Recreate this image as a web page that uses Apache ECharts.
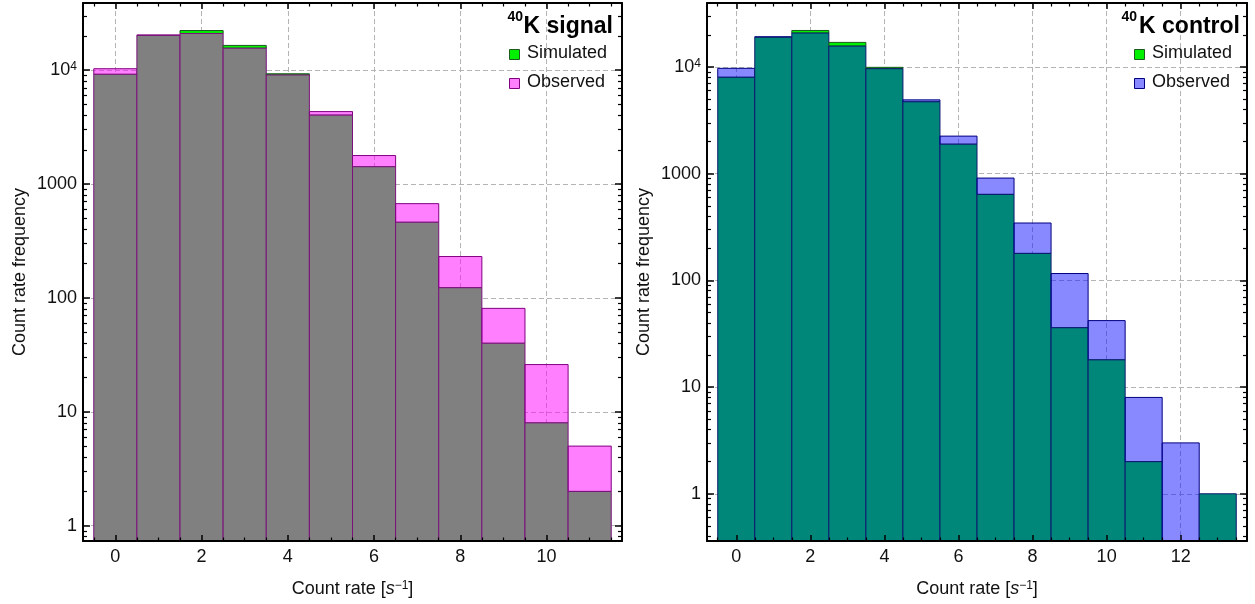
<!DOCTYPE html>
<html><head><meta charset="utf-8">
<script src="https://cdn.jsdelivr.net/npm/echarts@6/dist/echarts.min.js"></script>
<style>html,body{margin:0;padding:0;background:#fff}#c{width:1255px;height:604px}</style>
</head><body><div id="c"></div>
<script>
// ---- data ----
const binsL = [0, 1, 2, 3, 4, 5, 6, 7, 8, 9, 10, 11];
const simL  = [9200, 20200, 22300, 16500, 9300, 4030, 1420, 462, 123, 40, 8, 2];
const obsL  = [10300, 20400, 21000, 15600, 9080, 4330, 1780, 673, 231, 81, 26, 5];

const binsR = [0, 1, 2, 3, 4, 5, 6, 7, 8, 9, 10, 11, 12, 13];
const simR  = [8010, 19000, 22000, 17000, 9930, 4720, 1890, 640, 179, 36, 18, 2, 0, 1];
const obsR  = [9720, 19200, 20800, 15700, 9640, 4920, 2250, 910, 345, 116, 42, 8, 3, 1];

// ---- tick values ----
const xTicksL = [0, 2, 4, 6, 8, 10];
const xMinorL = [-0.5, 0.5, 1, 1.5, 2.5, 3, 3.5, 4.5, 5, 5.5, 6.5, 7, 7.5, 8.5, 9, 9.5, 10.5, 11, 11.5];
const xTicksR = [0, 2, 4, 6, 8, 10, 12];
const xMinorR = [-0.5, 0.5, 1, 1.5, 2.5, 3, 3.5, 4.5, 5, 5.5, 6.5, 7, 7.5, 8.5, 9, 9.5, 10.5, 11, 11.5, 12.5, 13, 13.5];
const yTicks = [1, 10, 100, 1000, 10000];
const yMinorL = [0.8, 0.9, 2, 3, 4, 5, 6, 7, 8, 9, 20, 30, 40, 50, 60, 70, 80, 90,
  200, 300, 400, 500, 600, 700, 800, 900, 2000, 3000, 4000, 5000, 6000, 7000, 8000, 9000, 20000, 30000];
const yMinorR = [0.4, 0.5, 0.6, 0.7, 0.8, 0.9, 2, 3, 4, 5, 6, 7, 8, 9, 20, 30, 40, 50, 60, 70, 80, 90,
  200, 300, 400, 500, 600, 700, 800, 900, 2000, 3000, 4000, 5000, 6000, 7000, 8000, 9000, 20000, 30000];

const FONT = '"Liberation Sans", Arial, sans-serif';
const TXT = '#111';
const FS = 18;
const GRIDLINE = { show: true, lineStyle: { color: '#b4b4b4', type: [5, 3], width: 1 } };

const chart = echarts.init(document.getElementById('c'), null, { renderer: 'canvas' });

function makeBars(overFill, overEdge, obsFill, obsEdge, simFill, simEdge) {
  return function (params, api) {
    const x = api.value(0), sim = api.value(1), obs = api.value(2);
    const cs = params.coordSys;
    const bottom = cs.y + cs.height;
    const xl = api.coord([x - 0.5, 1])[0];
    const xr = api.coord([x + 0.5, 1])[0];
    const lo = Math.min(sim, obs), hi = Math.max(sim, obs);
    const yLo = lo > 0 ? api.coord([x, lo])[1] : bottom;
    const yHi = hi > 0 ? api.coord([x, hi])[1] : bottom;
    const ch = [];
    if (hi > lo) {
      const simHigher = sim > obs;
      ch.push({ type: 'rect', shape: { x: xl, y: yHi, width: xr - xl, height: yLo - yHi },
        style: { fill: simHigher ? simFill : obsFill, stroke: simHigher ? simEdge : obsEdge, lineWidth: 1 } });
    }
    if (lo > 0) {
      ch.push({ type: 'rect', shape: { x: xl, y: yLo, width: xr - xl, height: bottom - yLo },
        style: { fill: overFill, stroke: overEdge, lineWidth: 1 } });
    }
    return { type: 'group', children: ch };
  };
}

function yFmt(v) {
  const r = Math.round(v);
  if (r >= 10000) return '10{sup|' + Math.round(Math.log10(r)) + '}';
  return String(r);
}

function axesFor(g, xmin, xmax, xTicks, xMinor, ymin, ymax, yMinor, splitN) {
  const xs = [
    { gridIndex: g, type: 'value', min: xmin, max: xmax, splitNumber: splitN, position: 'bottom', z: 0,
      axisLine: { show: false, onZero: false }, axisTick: { show: false },
      axisLabel: { show: true, customValues: xTicks, fontSize: FS, fontFamily: FONT, color: TXT, margin: 7 },
      splitLine: GRIDLINE,
      name: 'Count rate [{it|s}{sup|\u22121}]', nameLocation: 'middle', nameGap: 39,
      nameTextStyle: { fontSize: FS, fontFamily: FONT, color: TXT,
        rich: { it: { fontStyle: 'italic', fontSize: FS, fontFamily: FONT, color: TXT },
                sup: { fontSize: 12, fontFamily: FONT, color: TXT, verticalAlign: 'top' } } } },
    { gridIndex: g, type: 'value', min: xmin, max: xmax, position: 'bottom', z: 5,
      axisLine: { show: true, onZero: false, lineStyle: { color: '#000', width: 2 } },
      axisTick: { show: true, inside: true, length: 6, customValues: xTicks, lineStyle: { color: '#000', width: 1.5 } },
      axisLabel: { show: false }, splitLine: { show: false } },
    { gridIndex: g, type: 'value', min: xmin, max: xmax, position: 'top', z: 5,
      axisLine: { show: true, onZero: false, lineStyle: { color: '#000', width: 2 } },
      axisTick: { show: true, inside: true, length: 6, customValues: xTicks, lineStyle: { color: '#000', width: 1.5 } },
      axisLabel: { show: false }, splitLine: { show: false } },
    { gridIndex: g, type: 'value', min: xmin, max: xmax, position: 'bottom', z: 5,
      axisLine: { show: false, onZero: false },
      axisTick: { show: true, inside: true, length: 3.5, customValues: xMinor, lineStyle: { color: '#000', width: 1.2 } },
      axisLabel: { show: false }, splitLine: { show: false } },
    { gridIndex: g, type: 'value', min: xmin, max: xmax, position: 'top', z: 5,
      axisLine: { show: false, onZero: false },
      axisTick: { show: true, inside: true, length: 3.5, customValues: xMinor, lineStyle: { color: '#000', width: 1.2 } },
      axisLabel: { show: false }, splitLine: { show: false } }
  ];
  const ys = [
    { gridIndex: g, type: 'log', logBase: 10, min: ymin, max: ymax, position: 'left', z: 0,
      axisLine: { show: false, onZero: false }, axisTick: { show: false },
      axisLabel: { show: true, customValues: yTicks, formatter: yFmt, fontSize: FS, fontFamily: FONT, color: TXT, margin: 6,
        rich: { sup: { fontSize: 12, fontFamily: FONT, color: TXT, verticalAlign: 'top' } } },
      splitLine: GRIDLINE,
      name: 'Count rate frequency', nameLocation: 'middle', nameGap: 54,
      nameTextStyle: { fontSize: FS, fontFamily: FONT, color: TXT } },
    { gridIndex: g, type: 'log', logBase: 10, min: ymin, max: ymax, position: 'left', z: 5,
      axisLine: { show: true, onZero: false, lineStyle: { color: '#000', width: 2 } },
      axisTick: { show: true, inside: true, length: 7, customValues: yTicks, lineStyle: { color: '#000', width: 1.5 } },
      axisLabel: { show: false }, splitLine: { show: false } },
    { gridIndex: g, type: 'log', logBase: 10, min: ymin, max: ymax, position: 'right', z: 5,
      axisLine: { show: true, onZero: false, lineStyle: { color: '#000', width: 2 } },
      axisTick: { show: true, inside: true, length: 7, customValues: yTicks, lineStyle: { color: '#000', width: 1.5 } },
      axisLabel: { show: false }, splitLine: { show: false } },
    { gridIndex: g, type: 'log', logBase: 10, min: ymin, max: ymax, position: 'left', z: 5,
      axisLine: { show: false, onZero: false },
      axisTick: { show: true, inside: true, length: 4, customValues: yMinor, lineStyle: { color: '#000', width: 1.2 } },
      axisLabel: { show: false }, splitLine: { show: false } },
    { gridIndex: g, type: 'log', logBase: 10, min: ymin, max: ymax, position: 'right', z: 5,
      axisLine: { show: false, onZero: false },
      axisTick: { show: true, inside: true, length: 4, customValues: yMinor, lineStyle: { color: '#000', width: 1.2 } },
      axisLabel: { show: false }, splitLine: { show: false } }
  ];
  return { xs, ys };
}

const A = axesFor(0, -0.75, 11.75, xTicksL, xMinorL, 0.734, 38900, yMinorL, 6);
const B = axesFor(1, -0.79, 13.79, xTicksR, xMinorR, 0.361, 39800, yMinorR, 7);

function titleGraphics(titleRight, supRight, word) {
  return [
    { type: 'text', x: titleRight, y: 27, z: 20,
      style: { text: 'K ' + word, font: 'bold 23px ' + FONT, fill: '#000', align: 'right', verticalAlign: 'middle' } },
    { type: 'text', x: supRight, y: 17, z: 20,
      style: { text: '40', font: 'bold 14px ' + FONT, fill: '#000', align: 'right', verticalAlign: 'middle' } }
  ];
}
function swatch(x, y, fill, stroke) {
  return { type: 'rect', z: 20, shape: { x: x, y: y, width: 10, height: 10 }, style: { fill: fill, stroke: stroke, lineWidth: 1 } };
}
function label(x, y, t) {
  return { type: 'text', x: x, y: y, z: 20, style: { text: t, font: FS + 'px ' + FONT, fill: TXT, align: 'left', verticalAlign: 'middle' } };
}

const graphics = [].concat(
  titleGraphics(613, 523, 'signal'),
  [swatch(509.5, 49.5, '#00f000', '#1d5a1d'), label(527, 53, 'Simulated'),
   swatch(509.5, 78.5, '#ff80ff', '#800080'), label(527, 82, 'Observed')],
  titleGraphics(1240, 1137, 'control'),
  [swatch(1134.5, 49.5, '#00f000', '#1d5a1d'), label(1152, 53, 'Simulated'),
   swatch(1134.5, 78.5, '#8888ff', '#000080'), label(1152, 82, 'Observed')]
);

const dataL = binsL.map((b, i) => [b, simL[i], obsL[i]]);
const dataR = binsR.map((b, i) => [b, simR[i], obsR[i]]);

chart.setOption({
  animation: false,
  textStyle: { fontFamily: FONT },
  grid: [
    { left: 83, top: 3, width: 539, height: 538 },
    { left: 707, top: 3, width: 540, height: 538 }
  ],
  xAxis: A.xs.concat(B.xs),
  yAxis: A.ys.concat(B.ys),
  series: [
    { type: 'custom', name: 'signal', xAxisIndex: 0, yAxisIndex: 0, clip: true, z: 2,
      encode: { x: 0, y: [1, 2] }, data: dataL,
      renderItem: makeBars('#808080', '#7a127a', 'rgba(255,0,255,0.5)', '#800080', '#00f000', '#1d5a1d') },
    { type: 'custom', name: 'control', xAxisIndex: 5, yAxisIndex: 5, clip: true, z: 2,
      encode: { x: 0, y: [1, 2] }, data: dataR,
      renderItem: makeBars('#00877a', '#0c1a6e', 'rgba(17,17,255,0.5)', '#000080', '#00f000', '#1d5a1d') }
  ],
  graphic: graphics
});
</script></body></html>
